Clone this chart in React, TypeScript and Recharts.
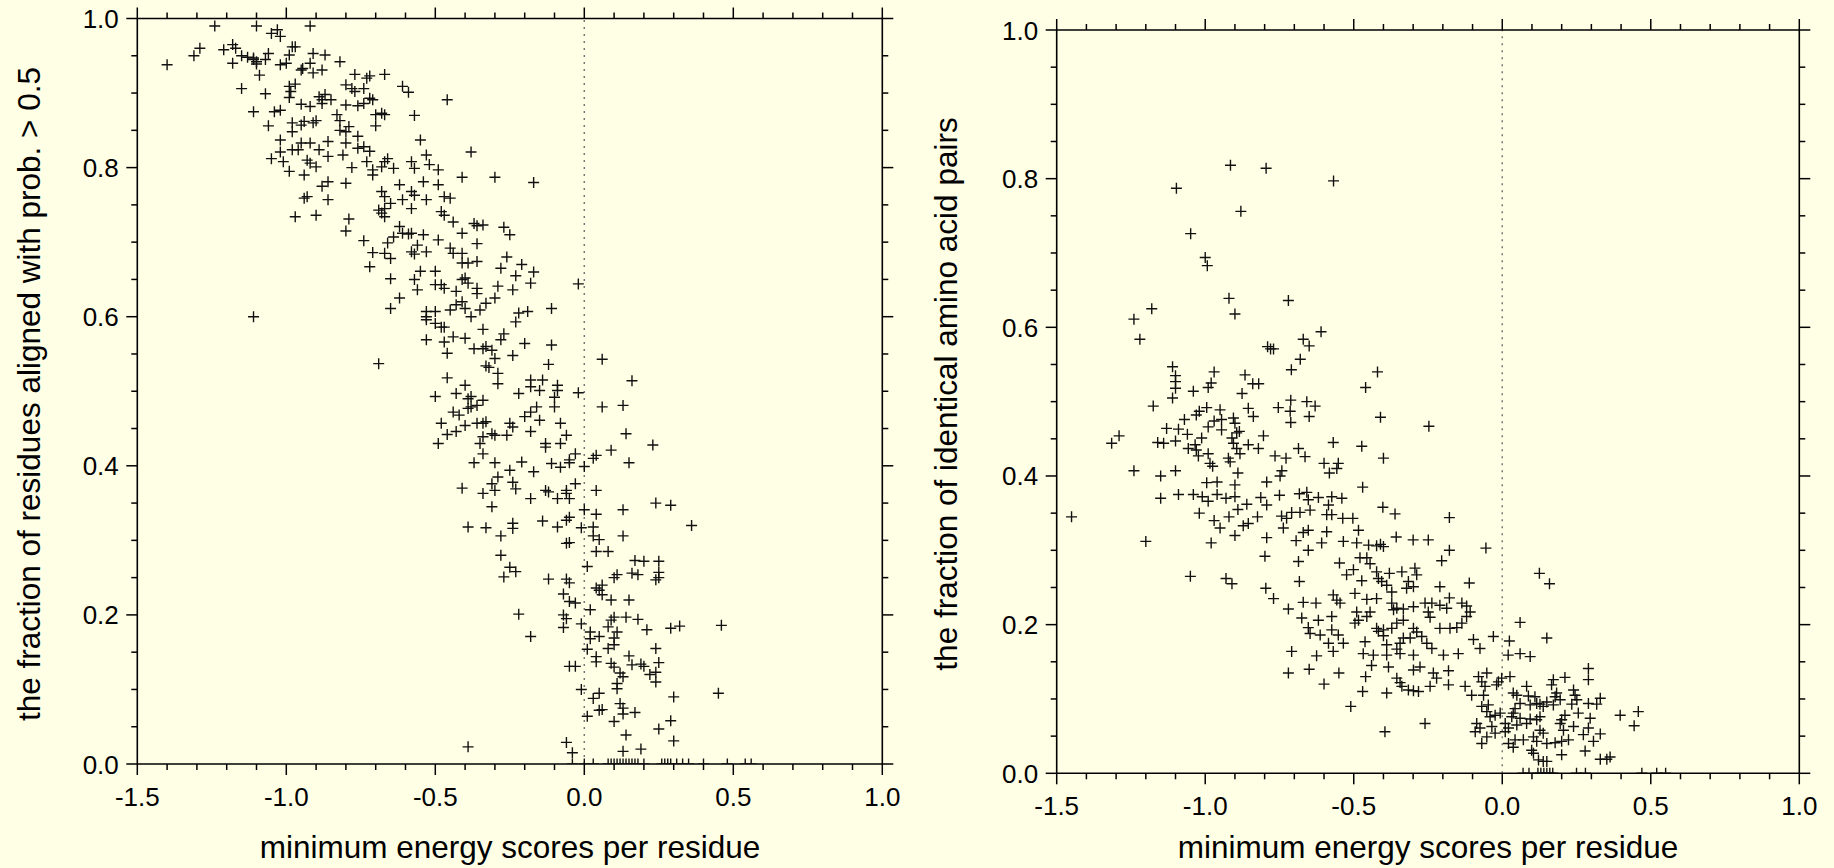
import React from 'react';
import { ScatterChart, Scatter, XAxis, YAxis, ReferenceLine } from 'recharts';

// x: minimum energy score per residue, y: fraction
const energyTicks = [
  -1.5, -1.4, -1.3, -1.2, -1.1, -1.0, -0.9, -0.8, -0.7, -0.6, -0.5, -0.4, -0.3,
  -0.2, -0.1, 0.0, 0.1, 0.2, 0.3, 0.4, 0.5, 0.6, 0.7, 0.8, 0.9, 1.0,
];
const fractionTicks = [
  0, 0.05, 0.1, 0.15, 0.2, 0.25, 0.3, 0.35, 0.4, 0.45, 0.5, 0.55, 0.6, 0.65,
  0.7, 0.75, 0.8, 0.85, 0.9, 0.95, 1.0,
];

// left panel: fraction of residues aligned with prob. > 0.5
const alignedTop: [number, number][] = [
  [-1.24, 0.99], [-1.10, 0.99], [-0.92, 0.99], [-1.05, 0.98], [-1.03, 0.985], [-1.02, 0.976],
  [-1.40, 0.938], [-1.31, 0.95], [-1.29, 0.96], [-1.21, 0.958], [-1.18, 0.965], [-1.17, 0.96],
  [-1.15, 0.95], [-1.18, 0.94], [-1.13, 0.948], [-1.11, 0.945], [-1.10, 0.942], [-1.10, 0.939],
  [-1.11, 0.947], [-1.09, 0.924], [-1.07, 0.945], [-1.06, 0.953], [-1.02, 0.938], [-1.00, 0.94],
  [-0.99, 0.951], [-0.98, 0.962], [-0.97, 0.962], [-0.95, 0.931], [-0.945, 0.933], [-0.92, 0.94],
  [-0.91, 0.953], [-0.91, 0.927], [-0.87, 0.951], [-0.88, 0.931], [-0.82, 0.942], [-0.77, 0.925],
  [-0.73, 0.92], [-0.72, 0.923], [-0.67, 0.925], [-1.15, 0.906], [-1.07, 0.899], [-0.99, 0.909],
  [-0.985, 0.902], [-0.97, 0.912], [-0.99, 0.894], [-0.89, 0.895], [-0.88, 0.891], [-0.87, 0.898],
  [-0.85, 0.891], [-0.80, 0.911], [-0.78, 0.906], [-0.77, 0.902], [-0.74, 0.906], [-0.72, 0.893],
  [-0.61, 0.909], [-0.59, 0.901], [-0.46, 0.891], [-1.11, 0.875], [-1.04, 0.875], [-1.02, 0.877],
  [-1.06, 0.856], [-0.98, 0.86], [-0.98, 0.848], [-0.95, 0.857], [-0.94, 0.862], [-0.91, 0.86],
  [-0.90, 0.863], [-0.92, 0.882], [-0.95, 0.885], [-0.88, 0.886], [-0.83, 0.871], [-0.82, 0.863],
  [-0.82, 0.85], [-0.80, 0.848], [-0.79, 0.855], [-0.80, 0.884], [-0.76, 0.883], [-0.74, 0.886],
  [-0.71, 0.891], [-0.70, 0.871], [-0.68, 0.873], [-0.67, 0.871], [-0.70, 0.856], [-0.57, 0.87],
  [-1.02, 0.837], [-1.02, 0.821], [-1.01, 0.808], [-1.05, 0.812], [-0.99, 0.795], [-0.98, 0.824],
  [-0.96, 0.824], [-0.95, 0.833], [-0.92, 0.833], [-0.93, 0.81], [-0.92, 0.806], [-0.90, 0.801],
  [-0.89, 0.824], [-0.86, 0.835], [-0.86, 0.815], [-0.81, 0.817], [-0.80, 0.833], [-0.78, 0.80],
  [-0.76, 0.842], [-0.76, 0.826], [-0.74, 0.828], [-0.72, 0.822], [-0.73, 0.808], [-0.71, 0.797],
  [-0.71, 0.79], [-0.68, 0.801], [-0.67, 0.808], [-0.66, 0.812], [-0.64, 0.799], [-0.58, 0.808],
  [-0.57, 0.799], [-0.55, 0.837], [-0.53, 0.817], [-0.52, 0.804], [-0.49, 0.797], [-0.38, 0.821],
  [-0.94, 0.79], [-0.80, 0.779], [-0.88, 0.775], [-0.86, 0.781], [-0.94, 0.759], [-0.93, 0.761],
  [-0.86, 0.757], [-0.97, 0.734], [-0.90, 0.736], [-0.79, 0.731], [-0.80, 0.715], [-0.68, 0.768],
  [-0.67, 0.761], [-0.65, 0.752], [-0.62, 0.777], [-0.61, 0.757], [-0.58, 0.768], [-0.57, 0.763],
  [-0.58, 0.745], [-0.54, 0.781], [-0.53, 0.757], [-0.49, 0.777], [-0.47, 0.761], [-0.45, 0.759],
  [-0.41, 0.787], [-0.30, 0.787], [-0.69, 0.743], [-0.68, 0.739], [-0.67, 0.734], [-0.67, 0.745],
  [-0.44, 0.727], [-0.48, 0.741], [-0.47, 0.736], [-0.37, 0.725], [-0.36, 0.722], [-0.34, 0.723],
  [-0.36, 0.698], [-0.41, 0.712], [-0.17, 0.78], [-0.27, 0.72], [-0.25, 0.71], [-0.26, 0.68],
  [-0.21, 0.67], [-0.17, 0.66], [-0.28, 0.665], [-0.23, 0.655],
];

const alignedMiddle: [number, number][] = [
  [-0.74, 0.702], [-0.71, 0.686], [-0.67, 0.685], [-0.66, 0.699], [-0.65, 0.678], [-0.64, 0.707],
  [-0.62, 0.721], [-0.61, 0.712], [-0.59, 0.711], [-0.58, 0.712], [-0.54, 0.71], [-0.56, 0.696],
  [-0.57, 0.684], [-0.53, 0.687], [-0.58, 0.687], [-0.49, 0.703], [-0.45, 0.692], [-0.44, 0.685],
  [-0.41, 0.685], [-0.41, 0.672], [-0.39, 0.672], [-0.36, 0.674], [-0.72, 0.667], [-0.65, 0.651],
  [-0.57, 0.65], [-0.55, 0.661], [-0.56, 0.636], [-0.50, 0.661], [-0.50, 0.643], [-0.48, 0.643],
  [-0.47, 0.638], [-0.43, 0.634], [-0.41, 0.65], [-0.40, 0.652], [-0.39, 0.645], [-0.36, 0.638],
  [-0.36, 0.631], [-0.33, 0.618], [-0.30, 0.625], [-0.62, 0.625], [-0.65, 0.611], [-0.53, 0.607],
  [-0.50, 0.607], [-0.45, 0.609], [-0.43, 0.616], [-0.41, 0.62], [-0.40, 0.611], [-0.35, 0.609],
  [-1.11, 0.60], [-0.29, 0.641], [-0.24, 0.636], [-0.18, 0.645], [-0.02, 0.644], [-0.38, 0.60],
  [-0.22, 0.605], [-0.19, 0.607], [-0.11, 0.611], [-0.23, 0.593], [-0.53, 0.60], [-0.53, 0.596],
  [-0.50, 0.591], [-0.48, 0.586], [-0.47, 0.586], [-0.34, 0.583], [-0.27, 0.577], [-0.28, 0.569],
  [-0.20, 0.564], [-0.11, 0.562], [-0.24, 0.548], [-0.31, 0.555], [-0.33, 0.56], [-0.34, 0.557],
  [-0.37, 0.557], [-0.40, 0.571], [-0.44, 0.573], [-0.47, 0.566], [-0.53, 0.569], [-0.46, 0.551],
  [-0.69, 0.537], [-0.30, 0.544], [-0.33, 0.534], [-0.32, 0.532], [-0.29, 0.524], [-0.29, 0.51],
  [-0.12, 0.536], [0.06, 0.543], [0.16, 0.514], [-0.46, 0.518], [-0.40, 0.508], [-0.43, 0.497],
  [-0.39, 0.49], [-0.38, 0.493], [-0.34, 0.488], [-0.36, 0.481], [-0.39, 0.477], [-0.38, 0.479],
  [-0.50, 0.493], [-0.44, 0.472], [-0.42, 0.468], [-0.48, 0.457], [-0.46, 0.442], [-0.43, 0.446],
  [-0.40, 0.454], [-0.36, 0.457], [-0.34, 0.457], [-0.33, 0.459], [-0.31, 0.443], [-0.30, 0.441],
  [-0.34, 0.439], [-0.35, 0.43], [-0.49, 0.43], [-0.34, 0.416], [-0.37, 0.404], [-0.30, 0.404],
  [-0.25, 0.457], [-0.24, 0.452], [-0.26, 0.441], [-0.22, 0.497], [-0.18, 0.515], [-0.18, 0.506],
  [-0.14, 0.515], [-0.15, 0.501], [-0.09, 0.508], [-0.09, 0.501], [-0.10, 0.492], [-0.10, 0.479],
  [-0.16, 0.479], [-0.18, 0.472], [-0.20, 0.466], [-0.15, 0.461], [-0.08, 0.457], [-0.18, 0.446],
  [-0.06, 0.441], [-0.08, 0.43], [-0.13, 0.43], [-0.13, 0.425], [-0.03, 0.416], [-0.05, 0.408],
  [-0.05, 0.404], [-0.08, 0.398], [-0.11, 0.403], [-0.02, 0.498], [0.06, 0.479], [0.13, 0.481],
  [0.14, 0.443], [0.23, 0.428], [0.09, 0.421], [0.04, 0.414], [0.03, 0.41], [0.15, 0.404],
  [0.00, 0.399], [-0.21, 0.405], [-0.17, 0.392], [-0.25, 0.394], [-0.29, 0.385], [-0.31, 0.376],
  [-0.30, 0.367], [-0.34, 0.363], [-0.41, 0.37], [-0.24, 0.378], [-0.23, 0.369], [-0.18, 0.356],
  [-0.13, 0.367], [-0.12, 0.365], [-0.09, 0.356], [-0.06, 0.367], [-0.06, 0.363], [-0.05, 0.356],
  [-0.03, 0.376], [0.04, 0.367], [-0.31, 0.345], [0.00, 0.341], [0.04, 0.335], [0.13, 0.341],
  [0.24, 0.35], [0.29, 0.347], [-0.39, 0.318], [-0.33, 0.317], [-0.28, 0.306], [-0.24, 0.316],
  [-0.24, 0.323], [-0.14, 0.326], [-0.09, 0.318], [-0.06, 0.327], [-0.05, 0.331], [-0.01, 0.317],
  [0.03, 0.318], [0.03, 0.306], [0.05, 0.301], [0.13, 0.306], [-0.05, 0.297], [-0.06, 0.296],
  [0.04, 0.285], [0.08, 0.285], [-0.28, 0.28], [-0.25, 0.264], [0.01, 0.265], [0.17, 0.273],
  [0.20, 0.272], [0.25, 0.272], [0.36, 0.32],
];

const alignedLow: [number, number][] = [
  [-0.23, 0.258], [-0.27, 0.251], [-0.12, 0.248], [-0.06, 0.248], [-0.05, 0.243], [0.10, 0.25],
  [0.11, 0.254], [0.16, 0.256], [0.18, 0.254], [0.25, 0.257], [0.24, 0.247], [0.25, 0.25],
  [0.04, 0.236], [0.05, 0.233], [0.06, 0.24], [0.06, 0.227], [0.09, 0.22], [0.15, 0.22],
  [-0.07, 0.228], [-0.05, 0.218], [-0.03, 0.216], [0.02, 0.207], [-0.22, 0.201], [-0.07, 0.20],
  [-0.06, 0.195], [-0.07, 0.183], [-0.01, 0.188], [0.02, 0.177], [0.02, 0.168], [0.05, 0.171],
  [0.08, 0.184], [0.09, 0.193], [0.10, 0.197], [0.11, 0.177], [0.10, 0.169], [0.10, 0.16],
  [0.08, 0.155], [0.01, 0.154], [0.04, 0.144], [0.04, 0.137], [0.14, 0.197], [0.18, 0.194],
  [0.21, 0.18], [0.29, 0.182], [0.32, 0.185], [0.46, 0.186], [-0.18, 0.171], [0.24, 0.155],
  [0.15, 0.145], [0.09, 0.135], [0.10, 0.13], [0.12, 0.122], [0.13, 0.117], [0.11, 0.108],
  [0.11, 0.101], [0.16, 0.133], [0.19, 0.134], [0.20, 0.131], [0.22, 0.12], [0.24, 0.123],
  [0.24, 0.11], [0.25, 0.136], [-0.05, 0.131], [-0.03, 0.131], [-0.01, 0.10], [0.03, 0.088],
  [0.05, 0.095], [0.05, 0.072], [0.06, 0.073], [0.01, 0.064], [0.12, 0.081], [0.13, 0.075],
  [0.13, 0.067], [0.17, 0.069], [0.10, 0.057], [0.14, 0.039], [0.25, 0.047], [0.29, 0.058],
  [0.30, 0.09], [0.45, 0.095], [0.30, 0.031], [0.19, 0.02], [0.13, 0.017], [-0.06, 0.029],
  [-0.04, 0.015], [-0.39, 0.023],
];

// energies of the left-panel points sitting on fraction = 0
const alignedZeroEnergies = [
  -0.04, 0.0, 0.03, 0.08, 0.09, 0.1, 0.11, 0.12, 0.13, 0.14, 0.15, 0.16, 0.17, 0.18, 0.2,
  0.26, 0.27, 0.28, 0.29, 0.31, 0.33, 0.35, 0.4, 0.48, 0.54, 0.56,
];

// right panel: fraction of identical amino acid pairs
const identityUpper: [number, number][] = [
  [-0.915, 0.818], [-0.795, 0.814], [-0.568, 0.797], [-1.097, 0.787], [-0.88, 0.756], [-1.049, 0.726],
  [-1.0, 0.694], [-0.993, 0.683], [-0.92, 0.639], [-0.72, 0.636], [-0.9, 0.618], [-1.18, 0.625],
  [-1.24, 0.611], [-1.22, 0.584], [-0.79, 0.574], [-0.78, 0.571], [-0.77, 0.571], [-0.61, 0.594],
  [-0.67, 0.584], [-0.65, 0.575], [-0.68, 0.557], [-0.71, 0.543], [-0.42, 0.54], [-0.46, 0.519],
  [-0.41, 0.479], [-1.11, 0.547], [-1.1, 0.535], [-1.1, 0.527], [-1.1, 0.518], [-1.11, 0.505],
  [-1.04, 0.514], [-0.97, 0.54], [-0.98, 0.525], [-0.99, 0.519], [-0.866, 0.536], [-0.84, 0.524],
  [-0.82, 0.524], [-0.876, 0.511], [-1.175, 0.494], [-1.29, 0.454], [-1.315, 0.444], [-1.16, 0.445],
  [-1.14, 0.444], [-1.1, 0.447], [-1.13, 0.464], [-1.09, 0.463], [-1.06, 0.456], [-1.07, 0.476],
  [-1.02, 0.487], [-1.03, 0.482], [-0.995, 0.492], [-0.95, 0.489], [-0.945, 0.476], [-0.97, 0.474],
  [-0.99, 0.466], [-0.945, 0.462], [-0.905, 0.478], [-0.9, 0.471], [-0.885, 0.46], [-0.894, 0.458],
  [-0.91, 0.451], [-0.905, 0.444], [-1.034, 0.442], [-1.057, 0.437], [-1.03, 0.435], [-1.023, 0.427],
  [-0.99, 0.43], [-0.984, 0.417], [-0.975, 0.413], [-1.012, 0.451], [-0.922, 0.424], [-0.916, 0.419],
  [-0.883, 0.43], [-0.894, 0.437], [-0.855, 0.442], [-0.838, 0.48], [-0.855, 0.491], [-0.821, 0.437],
  [-0.804, 0.454], [-0.754, 0.492], [-0.714, 0.487], [-0.712, 0.502], [-0.712, 0.472], [-0.658, 0.5],
  [-0.63, 0.494], [-0.65, 0.48], [-0.686, 0.437], [-0.664, 0.426], [-0.765, 0.427], [-0.728, 0.424],
  [-0.742, 0.407], [-0.748, 0.4], [-0.6, 0.417], [-0.569, 0.445], [-0.552, 0.417], [-0.557, 0.41],
  [-0.582, 0.404], [-0.473, 0.44], [-0.4, 0.424], [-1.24, 0.407], [-1.15, 0.4], [-1.1, 0.407],
  [-0.89, 0.404], [-0.995, 0.391], [-0.96, 0.392], [-0.9, 0.388], [-0.793, 0.392], [-0.47, 0.385],
  [-1.45, 0.345], [-1.2, 0.312], [-1.05, 0.265], [-0.93, 0.262], [-0.91, 0.255], [-1.09, 0.375],
  [-1.04, 0.375], [-1.01, 0.372], [-0.99, 0.366], [-0.96, 0.375], [-0.93, 0.37], [-0.9, 0.372],
  [-1.02, 0.35], [-0.97, 0.34], [-0.95, 0.33], [-0.92, 0.345], [-0.9, 0.32], [-0.98, 0.31],
  [-0.89, 0.355], [-1.15, 0.37],
];

const identityMiddle: [number, number][] = [
  [-0.247, 0.467], [-0.813, 0.371], [-0.86, 0.362], [-0.793, 0.361], [-0.75, 0.374], [-0.683, 0.376],
  [-0.658, 0.378], [-0.653, 0.368], [-0.619, 0.371], [-0.574, 0.372], [-0.54, 0.37], [-0.585, 0.361],
  [-0.647, 0.354], [-0.681, 0.351], [-0.709, 0.351], [-0.743, 0.346], [-0.726, 0.343], [-0.824, 0.345],
  [-0.872, 0.333], [-0.855, 0.336], [-0.737, 0.33], [-0.653, 0.327], [-0.67, 0.324], [-0.591, 0.325],
  [-0.591, 0.348], [-0.574, 0.348], [-0.537, 0.343], [-0.503, 0.343], [-0.484, 0.327], [-0.402, 0.358],
  [-0.361, 0.349], [-0.178, 0.344], [-0.793, 0.317], [-0.694, 0.313], [-0.653, 0.3], [-0.608, 0.31],
  [-0.535, 0.312], [-0.49, 0.31], [-0.45, 0.307], [-0.423, 0.306], [-0.41, 0.308], [-0.4, 0.305],
  [-0.357, 0.318], [-0.3, 0.314], [-0.249, 0.314], [-0.178, 0.3], [-0.055, 0.303], [-0.204, 0.286],
  [-0.799, 0.292], [-0.686, 0.285], [-0.548, 0.283], [-0.501, 0.274], [-0.524, 0.267], [-0.473, 0.259],
  [-0.479, 0.29], [-0.456, 0.29], [-0.445, 0.282], [-0.423, 0.271], [-0.417, 0.262], [-0.406, 0.258],
  [-0.389, 0.253], [-0.372, 0.244], [-0.38, 0.269], [-0.338, 0.271], [-0.294, 0.276], [-0.288, 0.267],
  [-0.316, 0.258], [-0.299, 0.251], [-0.322, 0.249], [-0.21, 0.251], [-0.111, 0.256], [-0.178, 0.236],
  [0.125, 0.269], [0.159, 0.255], [-0.796, 0.249], [-0.77, 0.235], [-0.683, 0.258], [-0.72, 0.221],
  [-0.675, 0.209], [-0.67, 0.23], [-0.627, 0.229], [-0.569, 0.24], [-0.557, 0.233], [-0.546, 0.229],
  [-0.574, 0.211], [-0.619, 0.206], [-0.653, 0.196], [-0.647, 0.188], [-0.613, 0.186], [-0.574, 0.193],
  [-0.552, 0.186], [-0.535, 0.175], [-0.585, 0.175], [-0.709, 0.164], [-0.625, 0.158], [-0.569, 0.164],
  [-0.496, 0.242], [-0.456, 0.234], [-0.423, 0.235], [-0.49, 0.217], [-0.484, 0.206], [-0.456, 0.211],
  [-0.445, 0.217], [-0.496, 0.202], [-0.423, 0.195], [-0.4, 0.193], [-0.372, 0.195], [-0.355, 0.202],
  [-0.333, 0.206], [-0.366, 0.22], [-0.355, 0.222], [-0.372, 0.229], [-0.333, 0.221], [-0.299, 0.224],
  [-0.26, 0.229], [-0.237, 0.229], [-0.249, 0.217], [-0.243, 0.21], [-0.21, 0.226], [-0.187, 0.222],
  [-0.136, 0.229], [-0.12, 0.225], [-0.108, 0.217], [-0.12, 0.211], [-0.136, 0.202], [-0.153, 0.196],
  [-0.176, 0.195], [-0.21, 0.195], [-0.299, 0.195], [-0.288, 0.19], [-0.271, 0.184], [-0.31, 0.182],
  [-0.333, 0.182], [-0.344, 0.175], [-0.355, 0.167], [-0.389, 0.173], [-0.4, 0.185], [-0.417, 0.191],
  [-0.462, 0.177], [-0.468, 0.161], [-0.434, 0.159], [-0.389, 0.159], [-0.344, 0.161], [-0.299, 0.159],
  [-0.254, 0.175], [-0.237, 0.168], [-0.198, 0.159], [-0.148, 0.161], [-0.097, 0.18], [-0.075, 0.168],
  [-0.03, 0.184], [0.024, 0.178], [0.06, 0.203], [0.15, 0.182], [0.02, 0.159], [0.06, 0.161],
  [0.094, 0.157],
];

const identityLow: [number, number][] = [
  [-0.72, 0.135], [-0.65, 0.14], [-0.6, 0.12], [-0.55, 0.135], [-0.51, 0.09], [-0.46, 0.13],
  [-0.47, 0.11], [-0.44, 0.145], [-0.395, 0.056], [-0.389, 0.108], [-0.355, 0.128], [-0.344, 0.122],
  [-0.338, 0.117], [-0.316, 0.112], [-0.299, 0.111], [-0.282, 0.11], [-0.243, 0.117], [-0.232, 0.135],
  [-0.221, 0.128], [-0.181, 0.119], [-0.181, 0.138], [-0.26, 0.067], [-0.277, 0.143], [-0.299, 0.139],
  [-0.383, 0.143], [-0.125, 0.117], [-0.103, 0.105], [-0.08, 0.13], [-0.069, 0.123], [-0.052, 0.135],
  [-0.063, 0.105], [-0.047, 0.092], [-0.069, 0.09], [-0.052, 0.083], [-0.041, 0.076], [-0.058, 0.117],
  [-0.013, 0.123], [-0.002, 0.128], [-0.019, 0.119], [0.026, 0.13], [0.037, 0.108], [0.049, 0.105],
  [0.06, 0.094], [0.082, 0.117], [0.088, 0.104], [0.094, 0.092], [0.11, 0.103], [0.116, 0.094],
  [0.127, 0.093], [0.138, 0.09], [0.15, 0.096], [0.172, 0.092], [0.178, 0.103], [0.166, 0.119],
  [0.172, 0.126], [0.211, 0.129], [0.183, 0.108], [0.195, 0.099], [0.24, 0.112], [0.245, 0.105],
  [0.251, 0.099], [0.256, 0.081], [0.234, 0.093], [0.29, 0.141], [0.29, 0.126], [0.29, 0.094],
  [0.318, 0.093], [0.33, 0.101], [0.397, 0.078], [0.458, 0.083], [0.444, 0.064], [0.296, 0.074],
  [0.211, 0.078], [0.2, 0.072], [0.195, 0.067], [0.116, 0.072], [0.127, 0.076], [0.094, 0.073],
  [0.082, 0.067], [0.06, 0.074], [0.043, 0.087], [0.037, 0.081], [0.032, 0.076], [0.049, 0.065],
  [0.01, 0.067], [0.021, 0.061], [-0.007, 0.081], [-0.024, 0.078], [-0.035, 0.063], [-0.024, 0.054],
  [-0.052, 0.049], [-0.075, 0.061], [-0.086, 0.067], [-0.091, 0.056], [-0.069, 0.04], [0.01, 0.056],
  [0.021, 0.04], [0.043, 0.045], [0.037, 0.035], [0.071, 0.045], [0.105, 0.049], [0.116, 0.043],
  [0.138, 0.054], [0.127, 0.058], [0.15, 0.04], [0.178, 0.041], [0.2, 0.043], [0.223, 0.045],
  [0.206, 0.058], [0.24, 0.063], [0.273, 0.052], [0.29, 0.061], [0.307, 0.043], [0.33, 0.053],
  [0.279, 0.03], [0.2, 0.025], [0.099, 0.031], [0.105, 0.027], [0.122, 0.018], [0.138, 0.016],
  [0.15, 0.016], [0.33, 0.019], [0.352, 0.019], [0.363, 0.022],
];

const identityZeroEnergies = [0.07, 0.09, 0.12, 0.13, 0.14, 0.15, 0.16, 0.17, 0.25, 0.28, 0.47, 0.52, 0.55];

const FONT = '"Liberation Sans", Arial, Helvetica, sans-serif';
const INK = '#000';
const BG = '#FFFFE6';

const toRows = (pairs: [number, number][], zeros: number[]) => [
  ...pairs.map(([x, y]) => ({ x, y })),
  ...zeros.map((x) => ({ x, y: 0 })),
];

const alignedData = toRows([...alignedTop, ...alignedMiddle, ...alignedLow], alignedZeroEnergies);
const identityData = toRows([...identityUpper, ...identityMiddle, ...identityLow], identityZeroEnergies);

const isMajor = (v: number, step: number) => Math.abs(v / step - Math.round(v / step)) < 1e-6;

type Side = 'bottom' | 'top' | 'left' | 'right';

function makeTick(side: Side, step: number, labels: boolean) {
  return (props: any) => {
    const { x, y, payload } = props;
    const v = payload.value as number;
    const major = isMajor(v, step);
    const len = major ? 11 : 6;
    let line;
    let label = null;
    if (side === 'bottom') {
      line = <line x1={x} x2={x} y1={y} y2={y + len} stroke={INK} strokeWidth={1.5} />;
      if (labels && major)
        label = (
          <text x={x} y={y + 42} textAnchor="middle" fontSize={26} fontFamily={FONT} fill={INK}>
            {v.toFixed(1)}
          </text>
        );
    } else if (side === 'top') {
      line = <line x1={x} x2={x} y1={y} y2={y - len} stroke={INK} strokeWidth={1.5} />;
    } else if (side === 'left') {
      line = <line x1={x} x2={x - len} y1={y} y2={y} stroke={INK} strokeWidth={1.5} />;
      if (labels && major)
        label = (
          <text x={x - 18.5} y={y + 9.5} textAnchor="end" fontSize={26} fontFamily={FONT} fill={INK}>
            {v.toFixed(1)}
          </text>
        );
    } else {
      line = <line x1={x} x2={x + len} y1={y} y2={y} stroke={INK} strokeWidth={1.5} />;
    }
    return (
      <g>
        {line}
        {label}
      </g>
    );
  };
}

const bottomTick = makeTick('bottom', 0.5, true);
const topTick = makeTick('top', 0.5, false);
const leftTick = makeTick('left', 0.2, true);
const rightTick = makeTick('right', 0.2, false);

const plus = (p: any) => {
  const { cx, cy } = p;
  if (cx == null || cy == null) return <g />;
  return <path d={`M${cx - 5.5},${cy}h11M${cx},${cy - 5.5}v11`} stroke="#111" strokeWidth={1.4} fill="none" />;
};

const axisLine = { stroke: INK, strokeWidth: 1.6 };

function Panel({
  data,
  width,
  margin,
}: {
  data: { x: number; y: number }[];
  width: number;
  margin: { top: number; right: number; bottom: number; left: number };
}) {
  return (
    <ScatterChart width={width} height={868} margin={margin}>
      <XAxis
        xAxisId="b"
        type="number"
        dataKey="x"
        domain={[-1.5, 1]}
        ticks={energyTicks}
        interval={0}
        allowDataOverflow
        tickSize={0}
        tickMargin={0}
        tickLine={false}
        tick={bottomTick}
        axisLine={axisLine}
        height={60}
      />
      <XAxis
        xAxisId="t"
        orientation="top"
        type="number"
        dataKey="x"
        domain={[-1.5, 1]}
        ticks={energyTicks}
        interval={0}
        allowDataOverflow
        tickSize={0}
        tickMargin={0}
        tickLine={false}
        tick={topTick}
        axisLine={axisLine}
        height={10}
      />
      <YAxis
        yAxisId="l"
        type="number"
        dataKey="y"
        domain={[0, 1]}
        ticks={fractionTicks}
        interval={0}
        allowDataOverflow
        tickSize={0}
        tickMargin={0}
        tickLine={false}
        tick={leftTick}
        axisLine={axisLine}
        width={60}
      />
      <YAxis
        yAxisId="r"
        orientation="right"
        type="number"
        dataKey="y"
        domain={[0, 1]}
        ticks={fractionTicks}
        interval={0}
        allowDataOverflow
        tickSize={0}
        tickMargin={0}
        tickLine={false}
        tick={rightTick}
        axisLine={axisLine}
        width={20}
      />
      <ReferenceLine x={0} xAxisId="b" yAxisId="l" stroke="#777" strokeWidth={1.5} strokeDasharray="2 5" />
      <Scatter data={data} xAxisId="b" yAxisId="l" shape={plus} isAnimationActive={false} />
      {/* ghost series so the mirrored axes have something bound to them */}
      <Scatter data={data} xAxisId="t" yAxisId="r" shape={() => <g />} isAnimationActive={false} />
    </ScatterChart>
  );
}

export default function App() {
  return (
    <div
      style={{
        position: 'absolute',
        left: 0,
        top: 0,
        width: 1834,
        height: 868,
        background: BG,
        overflow: 'hidden',
        fontFamily: FONT,
      }}
    >
      <div style={{ position: 'absolute', left: 0, top: 0 }}>
        <Panel data={alignedData} width={910} margin={{ top: 8.5, right: 7.7, bottom: 44, left: 77.3 }} />
      </div>
      <div style={{ position: 'absolute', left: 920, top: 0 }}>
        <Panel data={identityData} width={914} margin={{ top: 20, right: 14.7, bottom: 34.7, left: 76.7 }} />
      </div>
      <svg
        width={1834}
        height={868}
        style={{ position: 'absolute', left: 0, top: 0, pointerEvents: 'none' }}
      >
        <g fontFamily={FONT} fontSize={31.5} fill={INK} textAnchor="middle">
          <text x={510} y={858}>minimum energy scores per residue</text>
          <text x={1428} y={858}>minimum energy scores per residue</text>
          <text transform="translate(40,394) rotate(-90)">the fraction of residues aligned with prob. &gt; 0.5</text>
          <text transform="translate(957,394) rotate(-90)">the fraction of identical amino acid pairs</text>
        </g>
      </svg>
    </div>
  );
}
